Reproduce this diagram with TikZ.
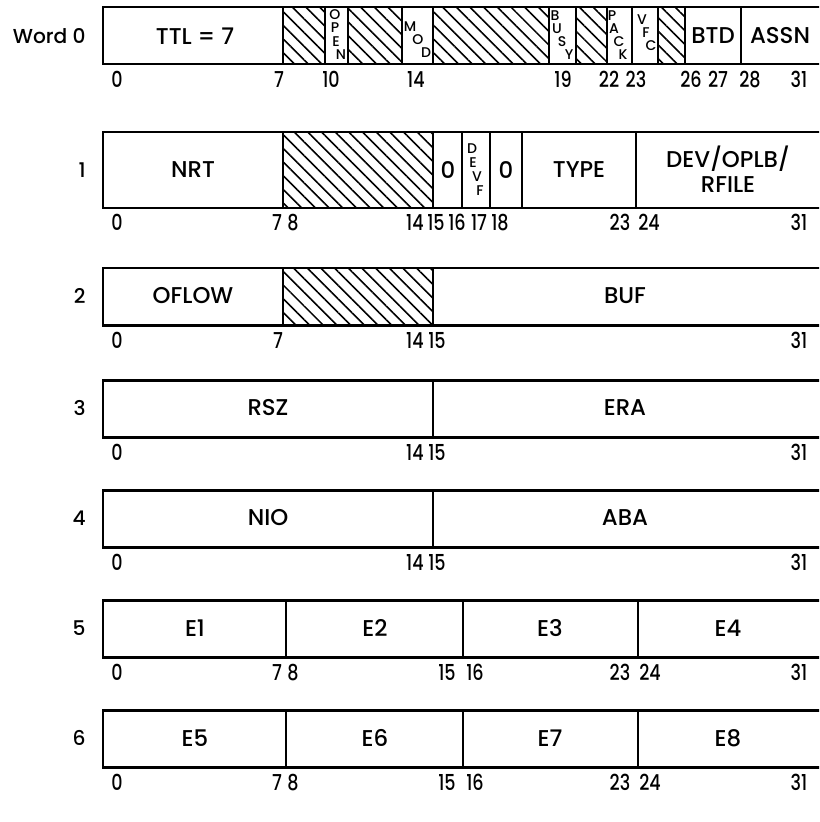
\documentclass[tikz,border=0pt]{standalone}
\usepackage{fontspec}
\setmainfont{Poppins Medium}
\newfontfamily\narrowfont{Poppins Medium}[FakeStretch=0.8]
\usetikzlibrary{patterns.meta}

\begin{document}
\begin{tikzpicture}[
    x=0.2mm, y=-0.2mm,
    fieldtxt/.style={font=\fontsize{13}{14.5}\selectfont, inner sep=0pt, align=center},
    bitnum/.style={font=\narrowfont\fontsize{12.5}{13}\selectfont, inner sep=0pt,
                   text height=8.7pt, text depth=0pt},
    letter/.style={font=\fontsize{8}{8}\selectfont, inner sep=0pt,
                   text height=5.6pt, text depth=0pt},
    wordlbl/.style={font=\fontsize{11.5}{13}\selectfont, inner sep=0pt, anchor=east},
    frame/.style={line width=1.7pt},
    sep/.style={line width=0.7pt},
    hatched/.style={pattern={Lines[angle=-45,distance=5.5pt,line width=0.9pt]}}
  ]
  \useasboundingbox (0,0) rectangle (819,822);
  \clip (0,0) rectangle (819,822);

  % Word 0
  \foreach \xa/\xb in {283/325, 348/402, 433/549, 576/607, 658/685}
    \fill[hatched] (\xa,7) rectangle (\xb,64);
  \foreach \xx in {283, 325, 348, 402, 433, 549, 576, 607, 632, 658, 685, 741}
    \draw[sep] (\xx,7) -- (\xx,64);
  \draw[frame] (103,7) rectangle (830,64);
  \node[wordlbl] (w0) at (86,36) {Word 0};
  \node[fieldtxt] (ttl) at (195,36) {TTL = 7};
  \node[fieldtxt] (btd) at (713,36) {BTD};
  \node[fieldtxt] (assn) at (780,36) {ASSN};
  \foreach \ch/\xx/\yy [count=\i] in {O/335/15, P/335/28, E/336/42, N/341/55,
      M/410/27, O/418/40, D/426/53,
      B/555/16, U/557/29, S/562/42, Y/569/55,
      P/612/16, A/614/29, C/619/42, K/623/55,
      V/642/20, F/646/33, C/651/46}
    \node[letter] (l0-\i) at (\xx,\yy) {\ch};
  \foreach \b/\xx in {0/117, 7/279, 10/331, 14/416, 19/563, 22/609, 23/636,
      26/691, 27/718, 28/750, 31/799}
    \node[bitnum] (b0-\b) at (\xx,80) {\b};

  % Word 1
  \fill[hatched] (283,132) rectangle (433,208);
  \foreach \xx in {283, 433, 462, 490, 522, 636}
    \draw[sep] (\xx,132) -- (\xx,208);
  \draw[frame] (103,132) rectangle (830,208);
  \node[wordlbl] (w1) at (86,170) {1};
  \node[fieldtxt] (nrt) at (193,170) {NRT};
  \node[fieldtxt] (z1) at (448,170) {0};
  \node[fieldtxt] (z2) at (506,170) {0};
  \node[fieldtxt] (type) at (579,170) {TYPE};
  \node[fieldtxt] (dev) at (728,169) {DEV/OPLB/\\RFILE};
  \foreach \ch/\xx/\yy [count=\i] in {D/472/149, E/473/163, V/477/177, F/480/191}
    \node[letter] (l1-\i) at (\xx,\yy) {\ch};
  \foreach \b/\xx in {0/117, 7/277, 8/293, 14/415, 15/436, 16/457, 17/479,
      18/500, 23/620, 24/649, 31/799}
    \node[bitnum] (b1-\b) at (\xx,223) {\b};

  % Word 2
  \fill[hatched] (283,268) rectangle (433,325);
  \foreach \xx in {283, 433}
    \draw[sep] (\xx,268) -- (\xx,325);
  \draw[frame] (103,268) rectangle (830,325);
  \node[wordlbl] (w2) at (86,296) {2};
  \node[fieldtxt] (oflow) at (193,296) {OFLOW};
  \node[fieldtxt] (buf) at (625,296) {BUF};
  \foreach \b/\xx in {0/117, 7/278, 14/415, 15/437, 31/799}
    \node[bitnum] (b2-\b) at (\xx,341) {\b};

  % Words 3 and 4
  \foreach \r/\yt/\ft/\fb in {3/380/RSZ/ERA, 4/490/NIO/ABA} {
    \draw[sep] (433,\yt) -- (433,\yt+57);
    \draw[frame] (103,\yt) rectangle (830,\yt+57);
    \node[wordlbl] (w\r) at (86,\yt+28) {\r};
    \node[fieldtxt] (lo\r) at (268,\yt+28) {\ft};
    \node[fieldtxt] (hi\r) at (625,\yt+28) {\fb};
    \foreach \b/\xx in {0/117, 14/415, 15/437, 31/799}
      \node[bitnum] (b\r-\b) at (\xx,\yt+73) {\b};
  }

  % Words 5 and 6
  \foreach \r/\yt/\ea/\eb/\ec/\ed in {5/600/E1/E2/E3/E4, 6/710/E5/E6/E7/E8} {
    \foreach \xx in {286, 463, 638}
      \draw[sep] (\xx,\yt) -- (\xx,\yt+57);
    \draw[frame] (103,\yt) rectangle (830,\yt+57);
    \node[wordlbl] (w\r) at (86,\yt+28) {\r};
    \node[fieldtxt] (ea\r) at (195,\yt+28) {\ea};
    \node[fieldtxt] (eb\r) at (375,\yt+28) {\eb};
    \node[fieldtxt] (ec\r) at (550,\yt+28) {\ec};
    \node[fieldtxt] (ed\r) at (728,\yt+28) {\ed};
    \foreach \b/\xx in {0/117, 7/277, 8/293, 15/447, 16/475, 23/620, 24/650, 31/799}
      \node[bitnum] (b\r-\b) at (\xx,\yt+73) {\b};
  }
\end{tikzpicture}
\end{document}
